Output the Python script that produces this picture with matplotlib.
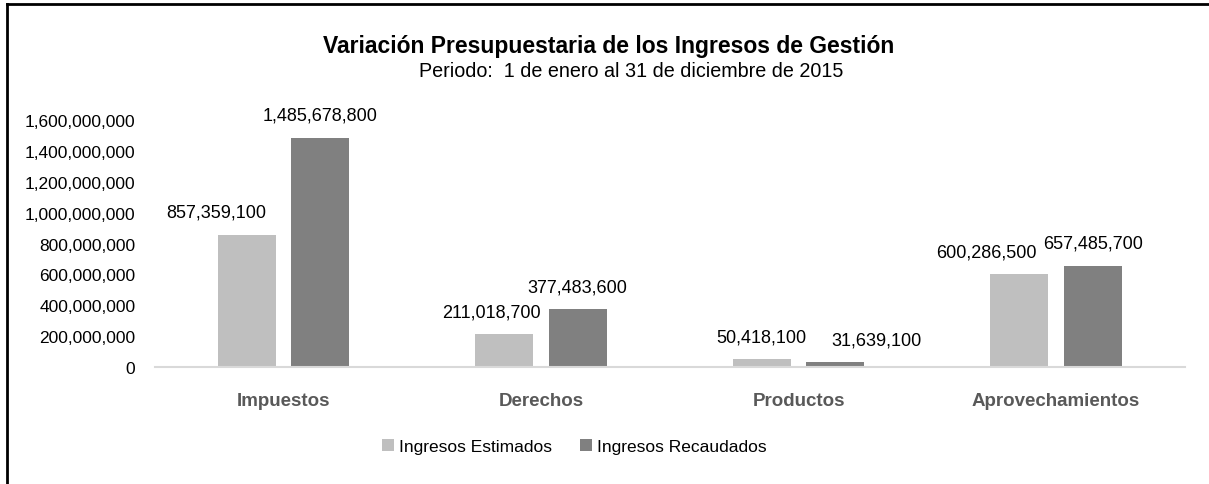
import matplotlib.pyplot as plt
import numpy as np
from matplotlib.lines import Line2D

plt.rcParams['font.family'] = ['Liberation Sans Narrow', 'Liberation Sans', 'DejaVu Sans']

categories = ['Impuestos', 'Derechos', 'Productos', 'Aprovechamientos']
estimados = [857359100, 211018700, 50418100, 600286500]
recaudados = [1485678800, 377483600, 31639100, 657485700]
series_names = ['Ingresos Estimados', 'Ingresos Recaudados']
yticks = [0, 200000000, 400000000, 600000000, 800000000,
          1000000000, 1200000000, 1400000000, 1600000000]

# label nudges (points) as seen in the original
est_dx = [-22, -9, 0, -24]
rec_dx = [0, 0, 30, 0]

fig = plt.figure(figsize=(12.09, 4.85), dpi=100)
ax = fig.add_axes([0.128, 0.2412, 0.852, 0.5093])

x = np.arange(len(categories))
w = 0.225
gap = 0.06
b1 = ax.bar(x - (w + gap) / 2, estimados, w, color='#BFBFBF', label=series_names[0])
b2 = ax.bar(x + (w + gap) / 2, recaudados, w, color='#808080', label=series_names[1])

for bars, vals, dxs in [(b1, estimados, est_dx), (b2, recaudados, rec_dx)]:
    for rect, v, dx in zip(bars, vals, dxs):
        ax.annotate(f'{v:,}', (rect.get_x() + rect.get_width() / 2, v),
                    xytext=(dx, 16), textcoords='offset points',
                    ha='center', va='center', fontsize=13, color='black')

ax.set_xlim(-0.5, len(categories) - 0.5)
ax.set_ylim(0, 1600000000)
ax.set_yticks(yticks)
ax.set_yticklabels([f'{t:,}' for t in yticks], fontsize=12.5)
ax.set_xticks(x)
ax.set_xticklabels(categories, fontsize=13.5, fontweight='bold', color='#595959')
ax.tick_params(axis='both', length=0)
ax.tick_params(axis='y', pad=14)
ax.tick_params(axis='x', pad=18)
for s in ['top', 'right', 'left']:
    ax.spines[s].set_visible(False)
ax.spines['bottom'].set_color('#D9D9D9')
ax.spines['bottom'].set_linewidth(1.5)

fig.text(0.503, 0.905, 'Variación Presupuestaria de los Ingresos de Gestión',
         ha='center', va='center', fontsize=16.5, fontweight='bold')
fig.text(0.522, 0.852, 'Periodo:  1 de enero al 31 de diciembre de 2015',
         ha='center', va='center', fontsize=14.2)

fig.legend(loc='center', bbox_to_anchor=(0.475, 0.078), ncol=2, frameon=False,
           fontsize=12.5, handlelength=0.7, handleheight=0.7, handletextpad=0.3,
           columnspacing=1.6)

fig.add_artist(Line2D([0.0055, 0.0055], [0, 0.989], transform=fig.transFigure,
                      color='black', linewidth=2))
fig.add_artist(Line2D([0.0055, 1], [0.989, 0.989], transform=fig.transFigure,
                      color='black', linewidth=2))

fig.savefig('out.png', dpi=100)
